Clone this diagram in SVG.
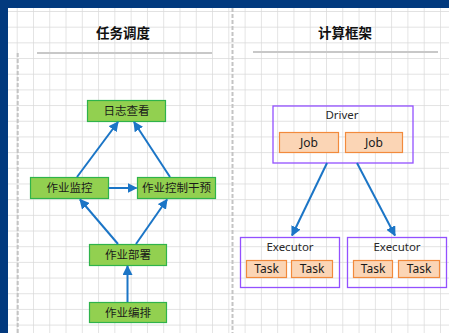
<svg xmlns="http://www.w3.org/2000/svg" width="449" height="333" viewBox="0 0 449 333">
<defs>
<pattern id="grid" x="16.7" y="11" width="16.28" height="15.68" patternUnits="userSpaceOnUse">
<path d="M0 0 V15.68 M0 0 H16.28" fill="none" stroke="#d9d9d9" stroke-width="1.4"/>
</pattern>
<marker id="arr" viewBox="0 0 10 10" refX="9" refY="5" markerWidth="5" markerHeight="5" orient="auto" markerUnits="strokeWidth">
<path d="M0 0 L10 5 L0 10 Z" fill="#1b75c6"/>
</marker>
</defs>
<style>
.title{font-family:"Noto Sans CJK SC","Noto Sans",sans-serif;font-size:13.5px;font-weight:bold;fill:#111;text-anchor:middle}
.g rect{fill:#92d050;stroke:#2fb34b;stroke-width:1.2}
.g text{font-family:"Noto Sans CJK SC","Noto Sans",sans-serif;font-size:11.5px;fill:#1a1a1a;text-anchor:middle}
.c rect{fill:none;stroke:#9350ff;stroke-width:1.3}
.o rect{fill:#fbd5b5;stroke:#f28a3c;stroke-width:1.2}
.lbl{font-family:"Noto Sans","Noto Sans CJK SC",sans-serif;font-size:11.5px;fill:#2a2a2a;text-anchor:middle}
.sm{font-size:12px;fill:#1a1a1a}
.conn line{stroke:#1b75c6;stroke-width:2;marker-end:url(#arr)}
.sep{stroke:#c8c8c8;stroke-width:2}
.dash{stroke:#c4c4c4;stroke-width:2;stroke-dasharray:4 2}
</style>
<rect width="449" height="333" fill="#ffffff"/>
<rect x="8" y="8" width="441" height="325" fill="url(#grid)"/>
<rect x="0" y="0" width="449" height="8" fill="#023a7e"/>
<rect x="0" y="0" width="8" height="333" fill="#023a7e"/>
<line class="dash" x1="17.7" y1="53" x2="17.7" y2="333"/>
<line class="dash" x1="232.5" y1="8" x2="232.5" y2="333"/>

<text class="title" x="123" y="38">任务调度</text>
<line class="sep" x1="37" y1="53" x2="212" y2="53"/>
<text class="title" x="345" y="38">计算框架</text>
<line class="sep" x1="253" y1="52" x2="438" y2="52"/>

<g id="rizhi" class="g"><rect x="87.5" y="100.5" width="78" height="21"/><text x="126.5" y="115">日志查看</text></g>
<g id="jiankong" class="g"><rect x="30.5" y="177.5" width="78" height="21"/><text x="69.5" y="192">作业监控</text></g>
<g id="ganyu" class="g"><rect x="137.5" y="177.5" width="78" height="21"/><text x="176.5" y="192">作业控制干预</text></g>
<g id="bushu" class="g"><rect x="89.5" y="244.5" width="77" height="21"/><text x="128" y="259">作业部署</text></g>
<g id="bianpai" class="g"><rect x="89.5" y="302.5" width="77" height="20"/><text x="128" y="316.5">作业编排</text></g>

<g id="driver" class="c"><rect x="273" y="106" width="140" height="57"/><text class="lbl" x="342" y="119">Driver</text>
<g class="o"><rect x="279.5" y="132.5" width="59" height="20"/><rect x="345.5" y="132.5" width="57" height="20"/></g>
<text class="lbl sm" x="309" y="146.5">Job</text><text class="lbl sm" x="374" y="146.5">Job</text></g>

<g id="executor1" class="c"><rect x="240.5" y="237.5" width="99" height="50"/><text class="lbl" x="290" y="250.5">Executor</text>
<g class="o"><rect x="246.5" y="260.5" width="40" height="17"/><rect x="291.5" y="260.5" width="41" height="17"/></g>
<text class="lbl sm" x="266.5" y="273.3">Task</text><text class="lbl sm" x="312" y="273.3">Task</text></g>

<g id="executor2" class="c"><rect x="347.5" y="237.5" width="99" height="50"/><text class="lbl" x="397" y="250.5">Executor</text>
<g class="o"><rect x="353.5" y="260.5" width="39" height="17"/><rect x="398.5" y="260.5" width="41" height="17"/></g>
<text class="lbl sm" x="373" y="273.3">Task</text><text class="lbl sm" x="419" y="273.3">Task</text></g>

<g id="connectors" class="conn">
<line x1="77" y1="177" x2="118" y2="122"/>
<line x1="170" y1="177" x2="134" y2="122"/>
<line x1="108.5" y1="188" x2="136.5" y2="188"/>
<line x1="118" y1="244" x2="80" y2="199.5"/>
<line x1="136" y1="244" x2="167" y2="199.5"/>
<line x1="127.5" y1="302" x2="127.5" y2="266"/>
<line x1="327" y1="163" x2="292" y2="235.5"/>
<line x1="357" y1="163" x2="395" y2="235.5"/>
</g>
</svg>
